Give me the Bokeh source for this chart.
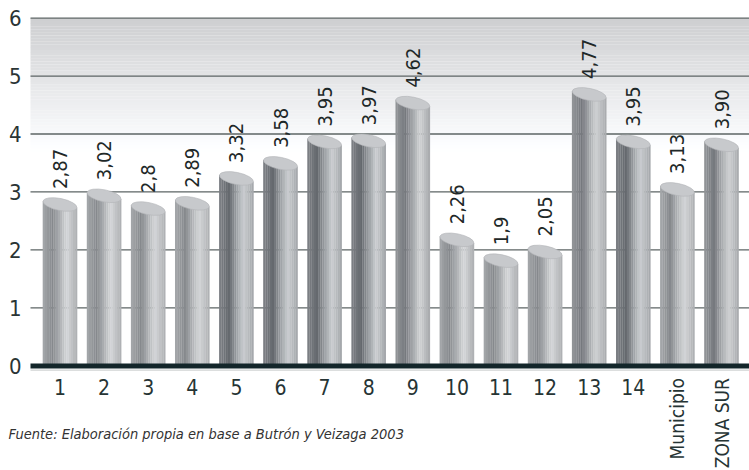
import math
from bokeh.plotting import figure
from bokeh.core.properties import value
from bokeh.embed import file_html
from bokeh.resources import INLINE

# ---- data ----
categories = ["1", "2", "3", "4", "5", "6", "7", "8", "9", "10", "11", "12",
              "13", "14", "Municipio", "ZONA SUR"]
values = [2.87, 3.02, 2.8, 2.89, 3.32, 3.58, 3.95, 3.97, 4.62, 2.26, 1.9, 2.05,
          4.77, 3.95, 3.13, 3.90]
value_labels = ["2,87", "3,02", "2,8", "2,89", "3,32", "3,58", "3,95", "3,97",
                "4,62", "2,26", "1,9", "2,05", "4,77", "3,95", "3,13", "3,90"]
y_ticks = [0, 1, 2, 3, 4, 5, 6]
y_tick_labels = ["0", "1", "2", "3", "4", "5", "6"]
source_note = "Fuente: Elaboración propia en base a Butrón y Veizaga 2003"

# ---- styles / layout ----
FONT = "'DejaVu Sans Condensed', 'DejaVu Sans', sans-serif"
shade = ["l", "l", "l", "l", "d", "d", "d", "d", "m", "l", "l", "l",
         "m", "d", "l", "m"]
palettes = {
    "l": [(0.0, "#a6a8ab"), (0.28, "#86898d"), (0.70, "#d4d6d8"), (1.0, "#abadb0")],
    "m": [(0.0, "#939699"), (0.28, "#76797e"), (0.70, "#cfd1d3"), (1.0, "#a6a8ab")],
    "d": [(0.0, "#7e8186"), (0.28, "#65696e"), (0.70, "#cacdd0"), (1.0, "#a2a5a9")],
}

W, H = 749, 470
X_SCALE = 44.1          # pixels per category
PX_Y = 57.92            # pixels per y unit
X_C1, Y_ZERO = 59.5, 365.2


def px2x(px):
    return 1 + (px - X_C1) / X_SCALE


def py2y(py):
    return (Y_ZERO - py) / PX_Y


X0, X1 = px2x(0), px2x(W)
Y0, Y1 = py2y(H), py2y(0)
PLOT_L = px2x(30)
BAR_W = 0.785
N_STRIPS = 16
TILT = 0.2


def hex2rgb(h):
    return tuple(int(h[i:i + 2], 16) for i in (1, 3, 5))


def lerp_color(stops, t):
    for (t0, c0), (t1, c1) in zip(stops, stops[1:]):
        if t <= t1:
            f = (t - t0) / (t1 - t0)
            a, b = hex2rgb(c0), hex2rgb(c1)
            return "#%02x%02x%02x" % tuple(round(a[j] + (b[j] - a[j]) * f) for j in range(3))
    return stops[-1][1]


p = figure(width=W, height=H, x_range=(X0, X1), y_range=(Y0, Y1),
           x_axis_location=None, y_axis_location=None,
           output_backend="svg", toolbar_location=None,
           min_border_left=0, min_border_right=0, min_border_top=0,
           min_border_bottom=0)
p.outline_line_color = None
p.background_fill_color = "white"
p.border_fill_color = "white"
p.xgrid.visible = False
p.ygrid.visible = False

# background gradient in upper part of plot area
nb = 46
b_lo, b_hi = 3.7, 6.0
lefts, rights, bots, tops, cols = [], [], [], [], []
for k in range(nb):
    lo = b_lo + (b_hi - b_lo) * k / nb
    hi = b_lo + (b_hi - b_lo) * (k + 1) / nb + 0.002
    t = (k + 0.5) / nb
    g = round(255 - t * (255 - 205))
    lefts.append(PLOT_L); rights.append(X1); bots.append(lo); tops.append(min(hi, b_hi))
    cols.append("#%02x%02x%02x" % (g, g + 1, min(g + 3, 255)))
p.quad(left=lefts, right=rights, bottom=bots, top=tops, fill_color=cols,
       line_color=None)

# horizontal gridlines
grid_y = [t for t in y_ticks if t > 0]
p.segment(x0=[PLOT_L] * len(grid_y), x1=[X1] * len(grid_y), y0=grid_y, y1=grid_y,
          line_color="#5c6464", line_width=1.3)

# y tick labels
p.text(x=[px2x(21)] * len(y_ticks), y=y_ticks, text=y_tick_labels,
       text_align="right", text_baseline="middle",
       text_font=value(FONT), text_font_size="22px", text_color="#2a3434")

# cylinders
xs = list(range(1, len(values) + 1))
tan_t = math.tan(TILT)
sl, sr, st, sc = [], [], [], []
ex, ey = [], []
for xi, v, sh in zip(xs, values, shade):
    cy = v - 5 / PX_Y
    left = xi - BAR_W / 2
    sw = BAR_W / N_STRIPS
    for k in range(N_STRIPS):
        t = (k + 0.5) / N_STRIPS
        xm = left + (k + 0.5) * sw
        dx_px = (xm - xi) * X_SCALE
        sl.append(left + k * sw)
        sr.append(left + (k + 1) * sw + (0.004 if k < N_STRIPS - 1 else 0))
        st.append(cy - dx_px * tan_t / PX_Y)
        sc.append(lerp_color(palettes[sh], t))
    ex.append(xi); ey.append(cy)
p.quad(left=sl, right=sr, bottom=0, top=st, fill_color=sc, line_color=None)
p.ellipse(x=ex, y=ey, width=BAR_W, height=12, height_units="screen",
          angle=-TILT, fill_color="#c7c9cc", line_color="#b2b4b7", line_width=0.6)

# baseline
p.segment(x0=[PLOT_L], x1=[X1], y0=[py2y(365.6)], y1=[py2y(365.6)],
          line_color="#13262a", line_width=5)
p.segment(x0=[PLOT_L], x1=[X1], y0=[py2y(369.6)], y1=[py2y(369.6)],
          line_color="#c4c8c8", line_width=1)

# value labels
p.text(x=xs, y=[v + 10.5 / PX_Y for v in values], text=value_labels,
       angle=math.pi / 2, text_align="left", text_baseline="middle",
       text_font=value(FONT), text_font_size="20px", text_color="#1e2828")

# category labels
short = [(x, c) for x, c in zip(xs, categories) if len(c) <= 2]
long_ = [(x, c) for x, c in zip(xs, categories) if len(c) > 2]
p.text(x=[a for a, _ in short], y=[py2y(378.5)] * len(short), text=[c for _, c in short],
       text_align="center", text_baseline="top",
       text_font=value(FONT), text_font_size="21px", text_color="#263434")
p.text(x=[a for a, _ in long_], y=[py2y(377.5)] * len(long_), text=[c for _, c in long_],
       angle=math.pi / 2, text_align="right", text_baseline="middle",
       text_font=value(FONT), text_font_size="19px", text_color="#263434")

# source note
p.text(x=[px2x(8)], y=[py2y(433)], text=[source_note],
       text_align="left", text_baseline="middle",
       text_font=value(FONT), text_font_size="14.5px", text_font_style="italic",
       text_color="#333333")

open("out.html", "w").write(file_html(p, INLINE))
